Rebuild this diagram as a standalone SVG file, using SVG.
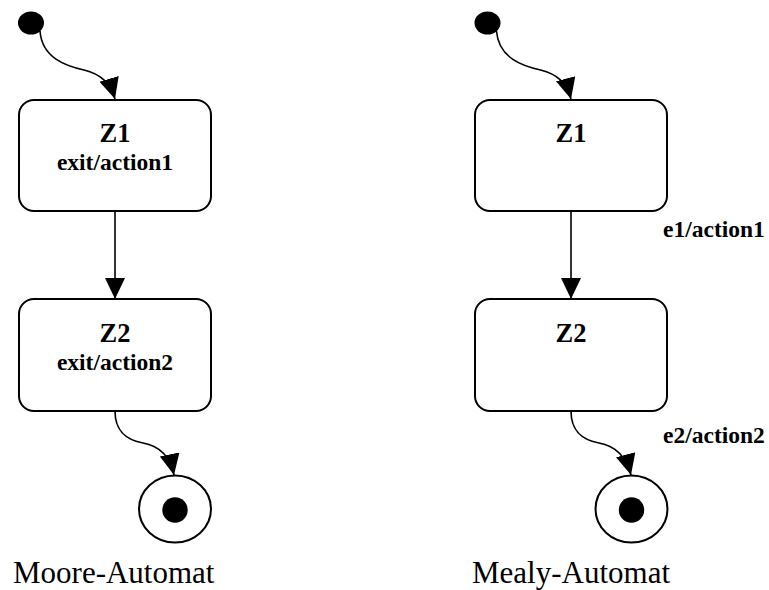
<svg xmlns="http://www.w3.org/2000/svg" width="769" height="590" viewBox="0 0 769 590">
<defs>
<style>
.state{fill:#fff;stroke:#000;stroke-width:2}
.init{fill:#000}
.final{fill:#fff;stroke:#000;stroke-width:2}
.edge{fill:none;stroke:#000;stroke-width:1.6}
.name{font-family:"Liberation Serif","Times New Roman",serif;font-weight:bold;font-size:26.5px;text-anchor:middle;fill:#000}
.act{font-family:"Liberation Serif","Times New Roman",serif;font-weight:bold;font-size:23.5px;fill:#000}
.title{font-family:"Liberation Serif","Times New Roman",serif;font-size:31px;fill:#000}
</style>
<marker id="arr" markerUnits="userSpaceOnUse" markerWidth="22" markerHeight="22" refX="21" refY="10" orient="auto">
<path d="M0,0 L21,10 L0,20 z" fill="#000"/>
</marker>
</defs>
<rect width="769" height="590" fill="#fff"/>

<g id="moore-init"><ellipse class="init" cx="31" cy="23" rx="13" ry="11.5"/></g>
<g id="moore-z1">
<rect class="state" x="19" y="100" width="192" height="111" rx="15"/>
<text class="name" x="115" y="142">Z1</text>
<text class="act" x="115" y="170" text-anchor="middle">exit/action1</text>
</g>
<g id="moore-z2">
<rect class="state" x="19" y="299" width="192" height="112" rx="15"/>
<text class="name" x="115" y="342">Z2</text>
<text class="act" x="115" y="370" text-anchor="middle">exit/action2</text>
</g>
<g id="moore-final">
<ellipse class="final" cx="175" cy="509" rx="36" ry="33.5"/>
<circle class="init" cx="175" cy="510" r="12.7"/>
</g>
<text class="title" x="13" y="583">Moore-Automat</text>

<g id="mealy-init"><ellipse class="init" cx="487.5" cy="23" rx="13" ry="11.5"/></g>
<g id="mealy-z1">
<rect class="state" x="475" y="100" width="192" height="111" rx="15"/>
<text class="name" x="571" y="142">Z1</text>
</g>
<g id="mealy-z2">
<rect class="state" x="475" y="299" width="192" height="112" rx="15"/>
<text class="name" x="571" y="342">Z2</text>
</g>
<g id="mealy-final">
<ellipse class="final" cx="631.5" cy="509" rx="36" ry="33.5"/>
<circle class="init" cx="631.5" cy="510" r="12.7"/>
</g>
<text class="title" x="472" y="583">Mealy-Automat</text>

<g id="connectors">
<path class="edge" marker-end="url(#arr)" d="M40,31 C42,58 66,66 84,70 C100,74 110,82 115,99"/>
<path class="edge" marker-end="url(#arr)" d="M115,211 L115,299"/>
<path class="edge" marker-end="url(#arr)" d="M115,411 C115,432 127,440 143,443 C160,446 170,456 174,475"/>

<path class="edge" marker-end="url(#arr)" d="M496.5,31 C498.5,58 522.5,66 540.5,70 C556.5,74 566.5,82 571,99"/>
<path class="edge" marker-end="url(#arr)" d="M571,211 L571,299"/>
<path class="edge" marker-end="url(#arr)" d="M571,411 C571,432 583,440 599,443 C616,446 626,456 631,475"/>
<text class="act" x="663" y="237">e1/action1</text>
<text class="act" x="663" y="443">e2/action2</text>
</g>
</svg>
